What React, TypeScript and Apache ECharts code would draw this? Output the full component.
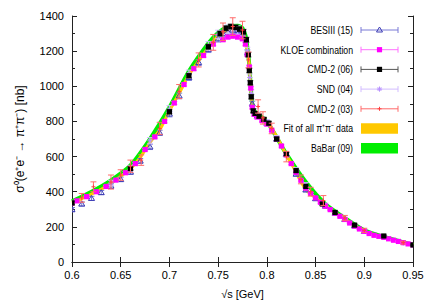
import React, { useEffect, useRef } from "react";
import * as echarts from "echarts";

// [sqrt(s) GeV, sigma nb, error nb]
const besIII: number[][] = [
  [0.600, 298, 12], [0.610, 330, 12], [0.620, 362, 12], [0.630, 395, 12], [0.640, 432, 13],
  [0.650, 470, 13], [0.660, 512, 14], [0.670, 575, 14], [0.680, 655, 15], [0.690, 735, 15],
  [0.700, 842, 16], [0.710, 945, 16], [0.720, 1050, 17], [0.730, 1135, 17], [0.740, 1210, 18],
  [0.750, 1270, 18], [0.755, 1300, 18], [0.760, 1310, 18], [0.765, 1320, 18], [0.770, 1318, 18],
  [0.775, 1305, 18], [0.780, 1190, 17], [0.785, 900, 15], [0.790, 830, 14], [0.800, 790, 14],
  [0.810, 700, 13], [0.820, 612, 12], [0.830, 500, 11], [0.840, 410, 10], [0.850, 360, 10],
  [0.860, 318, 9], [0.870, 278, 9], [0.880, 242, 8], [0.890, 205, 8], [0.900, 175, 8],
];

const kloe: number[][] = [
  [0.600, 335, 6], [0.605, 348, 6], [0.615, 372, 6], [0.625, 400, 6], [0.635, 430, 6],
  [0.645, 466, 6], [0.655, 508, 7], [0.665, 560, 7], [0.675, 640, 7], [0.685, 712, 7],
  [0.695, 800, 8], [0.705, 905, 8], [0.715, 1010, 8], [0.725, 1100, 9], [0.735, 1175, 9],
  [0.745, 1240, 9], [0.755, 1265, 9], [0.760, 1280, 9], [0.765, 1285, 9], [0.770, 1280, 9],
  [0.775, 1270, 9], [0.778, 1240, 9], [0.780, 1180, 9], [0.782, 1110, 8], [0.7835, 990, 8],
  [0.785, 880, 8], [0.787, 840, 8], [0.790, 825, 8], [0.795, 805, 7], [0.800, 785, 7],
  [0.805, 750, 7], [0.810, 700, 7], [0.815, 660, 6], [0.820, 610, 6], [0.825, 560, 6],
  [0.830, 510, 6], [0.835, 465, 5], [0.840, 420, 5], [0.845, 390, 5], [0.850, 365, 5],
  [0.855, 340, 5], [0.860, 318, 4], [0.865, 298, 4], [0.870, 278, 4], [0.875, 260, 4],
  [0.880, 242, 4], [0.885, 222, 4], [0.890, 204, 4], [0.895, 188, 3], [0.900, 174, 3],
  [0.905, 162, 3], [0.910, 152, 3], [0.915, 146, 3], [0.920, 140, 3], [0.925, 132, 3],
  [0.930, 124, 3], [0.935, 117, 3], [0.940, 110, 3], [0.945, 103, 3], [0.950, 97, 3],
];

const cmd2_06: number[][] = [
  [0.600, 336, 10], [0.660, 532, 10], [0.700, 855, 12], [0.720, 1060, 12], [0.740, 1225, 14],
  [0.752, 1300, 14], [0.758, 1330, 14], [0.763, 1340, 14], [0.768, 1335, 14], [0.772, 1325, 14],
  [0.776, 1310, 14], [0.779, 1265, 14], [0.781, 1180, 13], [0.782, 1090, 13], [0.783, 1020, 12],
  [0.784, 940, 12], [0.786, 860, 11], [0.788, 845, 11], [0.792, 830, 11], [0.797, 812, 10],
  [0.802, 790, 10], [0.810, 700, 10], [0.820, 615, 9], [0.830, 520, 9], [0.840, 430, 8],
  [0.857, 330, 8], [0.870, 282, 7], [0.890, 210, 6], [0.920, 148, 5], [0.950, 97, 4],
];

const snd04: number[][] = [
  [0.640, 450, 15], [0.660, 535, 15], [0.680, 690, 18], [0.700, 870, 20], [0.720, 1070, 22],
  [0.740, 1230, 24], [0.750, 1295, 24], [0.760, 1325, 24], [0.770, 1320, 24], [0.775, 1300, 24],
  [0.780, 1200, 22], [0.7825, 1050, 20], [0.784, 960, 20], [0.787, 855, 18], [0.790, 835, 18],
  [0.800, 795, 16], [0.810, 705, 15], [0.820, 612, 14], [0.830, 525, 12], [0.840, 440, 12],
  [0.860, 325, 10], [0.880, 245, 9], [0.900, 178, 8], [0.920, 142, 7], [0.940, 108, 6],
];

const cmd2_03: number[][] = [
  [0.610, 365, 25], [0.622, 428, 28], [0.640, 455, 40], [0.650, 495, 30], [0.660, 545, 35],
  [0.671, 580, 30], [0.690, 760, 35], [0.710, 970, 40], [0.730, 1150, 40], [0.745, 1250, 45],
  [0.755, 1310, 50], [0.765, 1340, 50], [0.775, 1320, 50], [0.781, 1150, 45], [0.791, 885, 38],
  [0.796, 820, 35], [0.805, 760, 30], [0.820, 600, 30], [0.835, 470, 25], [0.845, 400, 25],
  [0.858, 350, 28], [0.880, 250, 15], [0.900, 180, 12], [0.940, 110, 8],
];

const fitBand: number[][] = [
  [0.600, 336], [0.610, 360], [0.620, 386], [0.630, 414], [0.640, 448], [0.650, 488],
  [0.660, 530], [0.670, 595], [0.680, 680], [0.690, 751], [0.700, 860], [0.710, 960],
  [0.720, 1064], [0.730, 1145], [0.740, 1220], [0.750, 1285], [0.760, 1320], [0.765, 1330],
  [0.770, 1330], [0.775, 1310], [0.778, 1260], [0.780, 1200], [0.782, 1121], [0.783, 1017],
  [0.7845, 912], [0.786, 846], [0.790, 837], [0.795, 818], [0.800, 799], [0.807, 742],
  [0.812, 694], [0.820, 609], [0.827, 542], [0.834, 467], [0.841, 405], [0.850, 365],
  [0.860, 320], [0.870, 280], [0.880, 245], [0.890, 207], [0.900, 176], [0.910, 156],
  [0.920, 142], [0.930, 125], [0.940, 108], [0.950, 97],
];

const babarBand: number[][] = [
  [0.600, 345], [0.620, 400], [0.640, 465], [0.660, 550], [0.680, 700], [0.700, 880],
  [0.720, 1085], [0.740, 1245], [0.750, 1305], [0.760, 1340], [0.770, 1345], [0.775, 1330],
  [0.778, 1290], [0.780, 1220], [0.782, 1120], [0.784, 950], [0.786, 870], [0.790, 845],
  [0.800, 800], [0.820, 615], [0.840, 455], [0.860, 330], [0.880, 250], [0.900, 180],
  [0.920, 143], [0.950, 98],
];

const legendNames = [
  "BESIII (15)", "KLOE combination", "CMD-2 (06)", "SND (04)", "CMD-2 (03)",
  "Fit of all π⁺π⁻ data", "BaBar (09)",
];

const FONT = "'Liberation Sans', Arial, sans-serif";

type Kind = "triangle" | "square" | "star" | "plus";

function marker(kind: Kind, x: number, y: number, color: string, size = 1): any[] {
  if (kind === "square") {
    const h = 2.6 * size;
    return [{ type: "rect", shape: { x: x - h, y: y - h, width: 2 * h, height: 2 * h }, style: { fill: color } }];
  }
  if (kind === "triangle") {
    return [{
      type: "polygon",
      shape: { points: [[x, y - 3], [x - 3, y + 2], [x + 3, y + 2]] },
      style: { fill: "none", stroke: color, lineWidth: 1 },
    }];
  }
  if (kind === "star") {
    const s = 2.6;
    return [
      { type: "line", shape: { x1: x - s, y1: y, x2: x + s, y2: y }, style: { stroke: color, lineWidth: 1 } },
      { type: "line", shape: { x1: x, y1: y - s, x2: x, y2: y + s }, style: { stroke: color, lineWidth: 1 } },
      { type: "line", shape: { x1: x - s * 0.7, y1: y - s * 0.7, x2: x + s * 0.7, y2: y + s * 0.7 }, style: { stroke: color, lineWidth: 1 } },
      { type: "line", shape: { x1: x - s * 0.7, y1: y + s * 0.7, x2: x + s * 0.7, y2: y - s * 0.7 }, style: { stroke: color, lineWidth: 1 } },
    ];
  }
  const s = 2;
  return [
    { type: "line", shape: { x1: x - s, y1: y, x2: x + s, y2: y }, style: { stroke: color, lineWidth: 1 } },
    { type: "line", shape: { x1: x, y1: y - s, x2: x, y2: y + s }, style: { stroke: color, lineWidth: 1 } },
  ];
}

function errSeries(name: string, data: number[][], color: string, barColor: string, kind: Kind, z: number) {
  return {
    type: "custom",
    name,
    data,
    z,
    clip: true,
    encode: { x: 0, y: 1 },
    renderItem: (_params: any, api: any) => {
      const x = api.value(0);
      const y = api.value(1);
      const e = api.value(2);
      const c = api.coord([x, y]);
      const t = api.coord([x, y + e]);
      const b = api.coord([x, y - e]);
      const cap = 3;
      const st = { stroke: barColor, lineWidth: 1 };
      return {
        type: "group",
        children: [
          { type: "line", shape: { x1: c[0], y1: t[1], x2: c[0], y2: b[1] }, style: st },
          { type: "line", shape: { x1: c[0] - cap, y1: t[1], x2: c[0] + cap, y2: t[1] }, style: st },
          { type: "line", shape: { x1: c[0] - cap, y1: b[1], x2: c[0] + cap, y2: b[1] }, style: st },
          ...marker(kind, c[0], c[1], color),
        ],
      };
    },
  };
}

const styles: { bar: string; mark: string; kind: Kind }[] = [
  { bar: "#7a7ad6", mark: "#3c3cb4", kind: "triangle" },
  { bar: "#ff70ff", mark: "#ff00ff", kind: "square" },
  { bar: "#555555", mark: "#000000", kind: "square" },
  { bar: "#d2bcff", mark: "#b890ff", kind: "star" },
  { bar: "#ff6a6a", mark: "#ff4040", kind: "plus" },
];
const fitColor = "#ffc800";
const babarColor = "#00ee00";

function legendGraphics() {
  const items: any[] = [];
  const x0 = 361, x1 = 398, tx = 353;
  const rows = [30, 49.7, 69.4, 89.1, 108.8, 128.5, 148.2];
  legendNames.forEach((name, i) => {
    const y = rows[i];
    items.push({
      type: "text",
      x: tx,
      y,
      scaleX: 0.83,
      style: { text: name, align: "right", verticalAlign: "middle", fontSize: 10.5, fontFamily: FONT, fill: "#000" },
    });
    if (i < 5) {
      const s = styles[i];
      const st = { stroke: s.bar, lineWidth: 1 };
      items.push({ type: "line", shape: { x1: x0, y1: y, x2: x1, y2: y }, style: st });
      items.push({ type: "line", shape: { x1: x0, y1: y - 3, x2: x0, y2: y + 3 }, style: st });
      items.push({ type: "line", shape: { x1: x1, y1: y - 3, x2: x1, y2: y + 3 }, style: st });
      marker(s.kind, (x0 + x1) / 2, y, s.mark).forEach((m) => items.push(m));
    } else {
      items.push({
        type: "rect",
        shape: { x: x0, y: y - 5.3, width: x1 - x0, height: 10.6 },
        style: { fill: i === 5 ? fitColor : babarColor },
      });
    }
  });
  return items;
}

export default function App() {
  const ref = useRef<HTMLDivElement>(null);
  useEffect(() => {
    if (!ref.current) return;
    const chart = echarts.init(ref.current, null, { renderer: "svg" });
    const axisLine = { show: true, lineStyle: { color: "#222", width: 1 } };
    const xBase = {
      type: "value",
      min: 0.6,
      max: 0.95,
      interval: 0.05,
      axisLine,
      axisTick: { show: true, inside: true, length: 5, lineStyle: { color: "#222" } },
      splitLine: { show: false },
    };
    const yBase = {
      type: "value",
      min: 0,
      max: 1400,
      interval: 200,
      axisLine,
      axisTick: { show: true, inside: true, length: 5, lineStyle: { color: "#222" } },
      minorTick: { show: true, splitNumber: 2, length: 3, lineStyle: { color: "#222" } },
      splitLine: { show: false },
      minorSplitLine: { show: false },
    };
    chart.setOption({
      animation: false,
      backgroundColor: "#fff",
      textStyle: { fontFamily: FONT },
      grid: { left: 72, right: 23, top: 16, bottom: 43 },
      xAxis: [
        {
          ...xBase,
          position: "bottom",
          axisLabel: {
            show: true,
            fontSize: 11,
            color: "#000",
            fontFamily: FONT,
            margin: 7,
            formatter: (v: number) => String(+v.toFixed(2)),
          },
          name: "√s [GeV]",
          nameLocation: "middle",
          nameGap: 26,
          nameTextStyle: { fontSize: 11, color: "#000", fontFamily: FONT },
        },
        { ...xBase, position: "top", axisLabel: { show: false } },
      ],
      yAxis: [
        {
          ...yBase,
          position: "left",
          axisLabel: {
            show: true, fontSize: 11, color: "#000", fontFamily: FONT, margin: 8,
            formatter: (v: number) => String(v),
          },
          name: "σ⁰(e⁺e⁻ → π⁺π⁻) [nb]",
          nameLocation: "middle",
          nameRotate: 90,
          nameGap: 46,
          nameTextStyle: { fontSize: 12, color: "#000", fontFamily: FONT },
        },
        { ...yBase, position: "right", axisLabel: { show: false } },
      ],
      series: [
        {
          type: "line",
          name: legendNames[6],
          data: babarBand,
          showSymbol: false,
          smooth: 0.25,
          lineStyle: { color: babarColor, width: 4 },
          z: 1,
        },
        {
          type: "line",
          name: legendNames[5],
          data: fitBand,
          showSymbol: false,
          smooth: 0.25,
          lineStyle: { color: fitColor, width: 3 },
          z: 2,
        },
        errSeries(legendNames[0], besIII, styles[0].mark, styles[0].bar, styles[0].kind, 3),
        errSeries(legendNames[3], snd04, styles[3].mark, styles[3].bar, styles[3].kind, 4),
        errSeries(legendNames[1], kloe, styles[1].mark, styles[1].bar, styles[1].kind, 5),
        errSeries(legendNames[2], cmd2_06, styles[2].mark, styles[2].bar, styles[2].kind, 6),
        errSeries(legendNames[4], cmd2_03, styles[4].mark, styles[4].bar, styles[4].kind, 7),
      ],
      graphic: legendGraphics(),
    });
    return () => chart.dispose();
  }, []);
  return (
    <div
      ref={ref}
      style={{ position: "absolute", left: 0, top: 0, width: 436, height: 305 }}
    />
  );
}
